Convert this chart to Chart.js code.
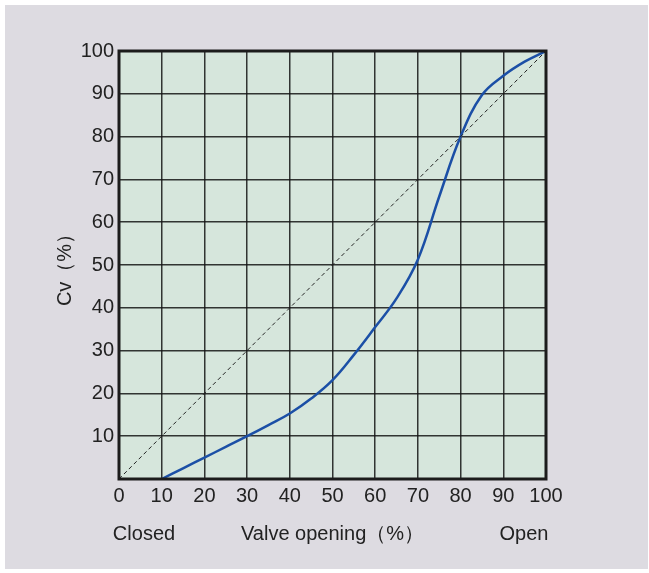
<!DOCTYPE html>
<html>
<head>
<meta charset="utf-8">
<script src="https://cdn.jsdelivr.net/npm/chart.js@4"></script>
<style>
  html, body { margin: 0; padding: 0; background: #fff; }
  canvas { display: block; }
</style>
</head>
<body>
<canvas id="cvChart" width="649" height="573"></canvas>
<script>
// Valve opening (%) vs Cv (%)
const openingPct = [10, 15, 20, 25, 30, 35, 40, 45, 50, 55, 60, 65, 70, 75, 80, 85, 90, 95, 100];
const cvPct      = [0, 2.5, 5, 7.5, 10, 12.6, 15.3, 18.8, 23.1, 29, 35.5, 42.2, 51.3, 66, 80, 89.7, 94.2, 97.5, 100];
const linearRef  = [[0, 0], [100, 100]];
const xTicks = [0, 10, 20, 30, 40, 50, 60, 70, 80, 90, 100];
const yTicks = [10, 20, 30, 40, 50, 60, 70, 80, 90, 100];

const FONT = '"Liberation Sans", Arial, sans-serif';

const frame = {
  id: 'frame',
  beforeDraw(chart) {
    const { ctx, chartArea: a } = chart;
    ctx.save();
    ctx.fillStyle = '#ffffff';
    ctx.fillRect(0, 0, chart.width, chart.height);
    ctx.fillStyle = '#dddbe1';
    ctx.fillRect(5, 5, 643, 564);
    ctx.fillStyle = '#d6e6dc';
    ctx.fillRect(a.left, a.top, a.right - a.left, a.bottom - a.top);
    ctx.restore();
  },
  afterDraw(chart) {
    const { ctx, chartArea: a } = chart;
    ctx.save();
    ctx.strokeStyle = '#1c1c1c';
    ctx.lineWidth = 3;
    ctx.strokeRect(a.left, a.top, a.right - a.left, a.bottom - a.top);
    ctx.fillStyle = '#222';
    ctx.font = '20px ' + FONT;
    ctx.textBaseline = 'middle';
    ctx.textAlign = 'center';
    ctx.fillText('Closed', 144, 534);
    ctx.fillText('Open', 524, 534);
    ctx.restore();
  }
};

new Chart(document.getElementById('cvChart'), {
  type: 'line',
  data: {
    datasets: [{
      label: 'Linear',
      data: linearRef.map(p => ({ x: p[0], y: p[1] })),
      borderColor: '#222',
      borderWidth: 1,
      borderDash: [4, 3],
      pointRadius: 0,
      tension: 0
    }, {
      label: 'Cv',
      data: openingPct.map((x, i) => ({ x, y: cvPct[i] })),
      borderColor: '#1b4fa6',
      borderWidth: 2.5,
      pointRadius: 0,
      tension: 0.4
    }]
  },
  options: {
    responsive: false,
    animation: false,
    layout: { padding: { left: 0, right: 103, top: 51, bottom: 0 } },
    plugins: { legend: { display: false }, tooltip: { enabled: false } },
    scales: {
      x: {
        type: 'linear',
        min: 0, max: 100,
        afterFit(s) { s.height = 94; },
        afterBuildTicks(s) { s.ticks = xTicks.map(v => ({ value: v })); },
        grid: { color: 'rgba(20,20,20,0.85)', lineWidth: 1.5, drawTicks: false },
        border: { display: false },
        ticks: { color: '#222', font: { family: FONT, size: 20 }, padding: 5 },
        title: {
          display: true, text: 'Valve opening（%）', color: '#222',
          font: { family: FONT, size: 20 }, padding: { bottom: 27 }
        }
      },
      y: {
        type: 'linear',
        min: 0, max: 100,
        afterFit(s) { s.width = 119; },
        afterBuildTicks(s) { s.ticks = [0].concat(yTicks).map(v => ({ value: v })); },
        grid: { color: 'rgba(20,20,20,0.85)', lineWidth: 1.5, drawTicks: false },
        border: { display: false },
        ticks: {
          color: '#222', font: { family: FONT, size: 20 }, padding: 5,
          callback: v => (yTicks.includes(v) ? String(v) : '')
        },
        title: {
          display: true, text: 'Cv（%）', color: '#222',
          font: { family: FONT, size: 20 }, padding: { top: 53 }
        }
      }
    }
  },
  plugins: [frame]
});
</script>
</body>
</html>
